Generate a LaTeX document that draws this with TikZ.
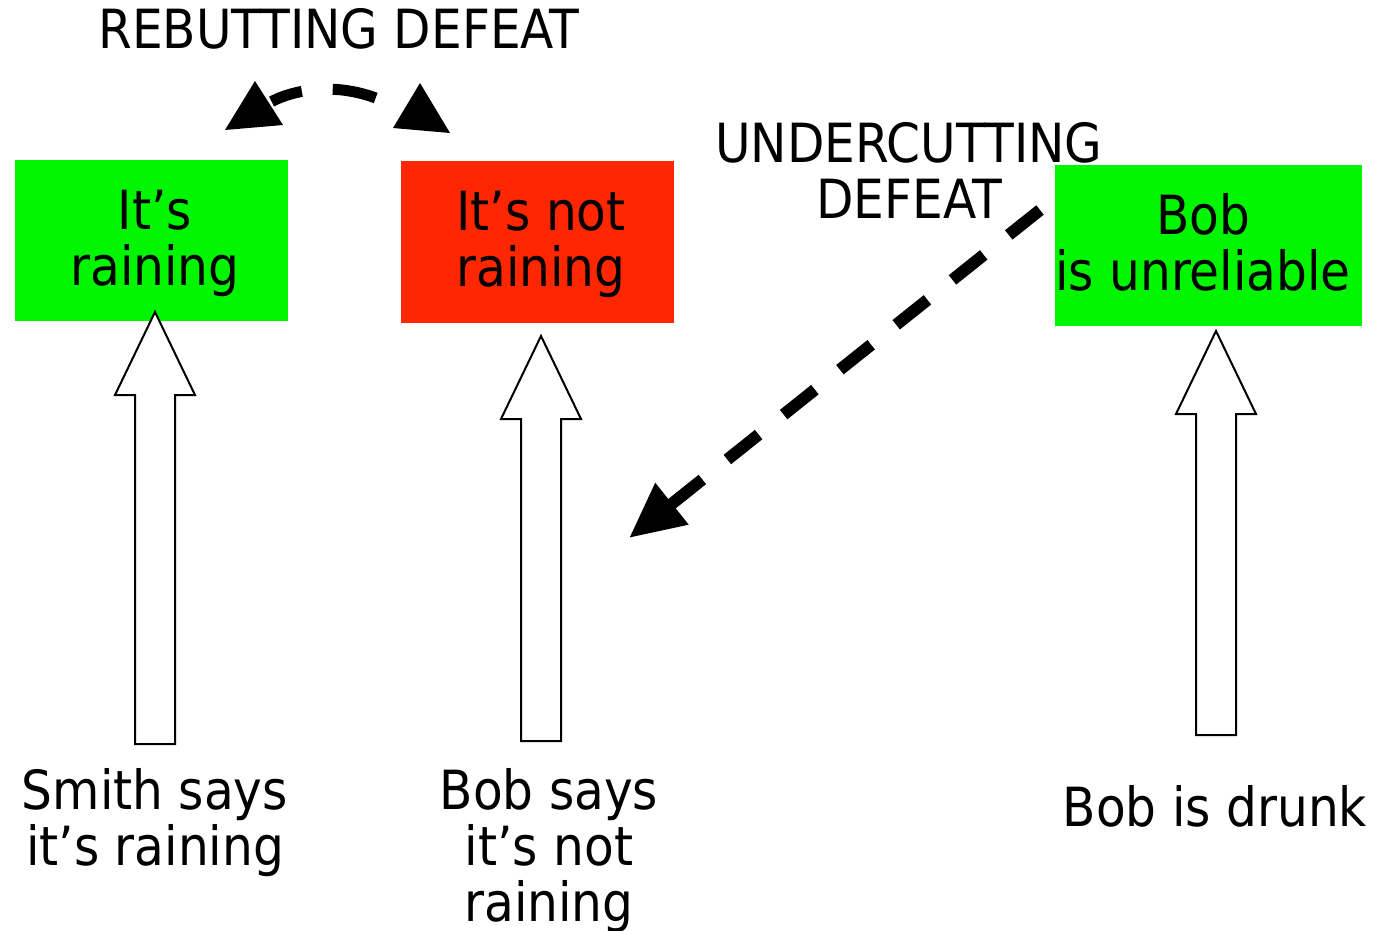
\documentclass[tikz,border=0pt]{standalone}
\usepackage{fontspec}
\setmainfont{DejaVu Sans Condensed}
\usetikzlibrary{arrows.meta}
\definecolor{claimgreen}{RGB}{0,245,0}
\definecolor{claimred}{RGB}{255,38,0}
\tikzset{
  txt/.style={font=\fontsize{54}{56}\selectfont, inner sep=0pt, align=center, anchor=base},
  claim/.style={draw=none, inner sep=0pt},
  support/.style={draw=black, line width=2pt, fill=white, line join=miter},
  defeat/.style={line width=12pt, dash pattern=on 40pt off 32pt},
  tiphead/.style={fill=black, draw=none}
}
% hollow upward block arrow: tip x, tip y, bottom y
\newcommand{\hollowup}[3]{%
  \draw[support] (#1,#2) -- (#1+40,#2+83) -- (#1+20,#2+83) -- (#1+20,#3)
    -- (#1-20,#3) -- (#1-20,#2+83) -- (#1-40,#2+83) -- cycle;}
\begin{document}
\begin{tikzpicture}[x=1pt, y=-1pt]
\useasboundingbox (0,0) rectangle (1374,930);

% claims
\node[claim, fill=claimgreen, minimum width=273pt, minimum height=161pt] (rain) at (151.5,240.5) {};
\node[claim, fill=claimred, minimum width=273pt, minimum height=162pt] (norain) at (537.5,242) {};
\node[claim, fill=claimgreen, minimum width=307pt, minimum height=161pt] (unrel) at (1208.5,245.5) {};

% multi-line labels sit on the baseline of their last line
\node[txt] (rainT) at (155,285) {It’s\\raining};
\node[txt] (norainT) at (541,286) {It’s not\\raining};
\node[txt] (unrelT) at (1203,290) {Bob\\is unreliable};

% evidence
\node[txt] (smith) at (155,865) {Smith says\\it’s raining};
\node[txt] (bobsays) at (549,921) {Bob says\\it’s not\\raining};
\node[txt] (drunk) at (1215,826) {Bob is drunk};

% defeat labels
\node[txt] (rebut) at (339,48) {REBUTTING DEFEAT};
\node[txt] (under) at (909,218) {UNDERCUTTING\\DEFEAT};

% support arrows
\hollowup{155}{312}{744}
\hollowup{541}{336}{741}
\hollowup{1216}{331}{735}

% undercutting defeat
\coordinate (uStart) at (1040,210);
\coordinate (uEnd) at (629,538);
\draw[defeat, -{Triangle[length=55pt, width=50pt]}] (uStart) -- (uEnd);

% rebutting defeat
\coordinate (rA) at (269,103);
\coordinate (rB) at (404,112);
\draw[line width=11pt, dash pattern=on 0pt off 3pt on 32pt off 31pt on 44pt off 60pt]
  (rA) .. controls (295,88) and (350,78) .. (rB);
\fill[tiphead] (225,130) -- (255,81) -- (283,125) -- cycle;
\fill[tiphead] (420,83) -- (393,128) -- (450,133) -- cycle;
\end{tikzpicture}
\end{document}
